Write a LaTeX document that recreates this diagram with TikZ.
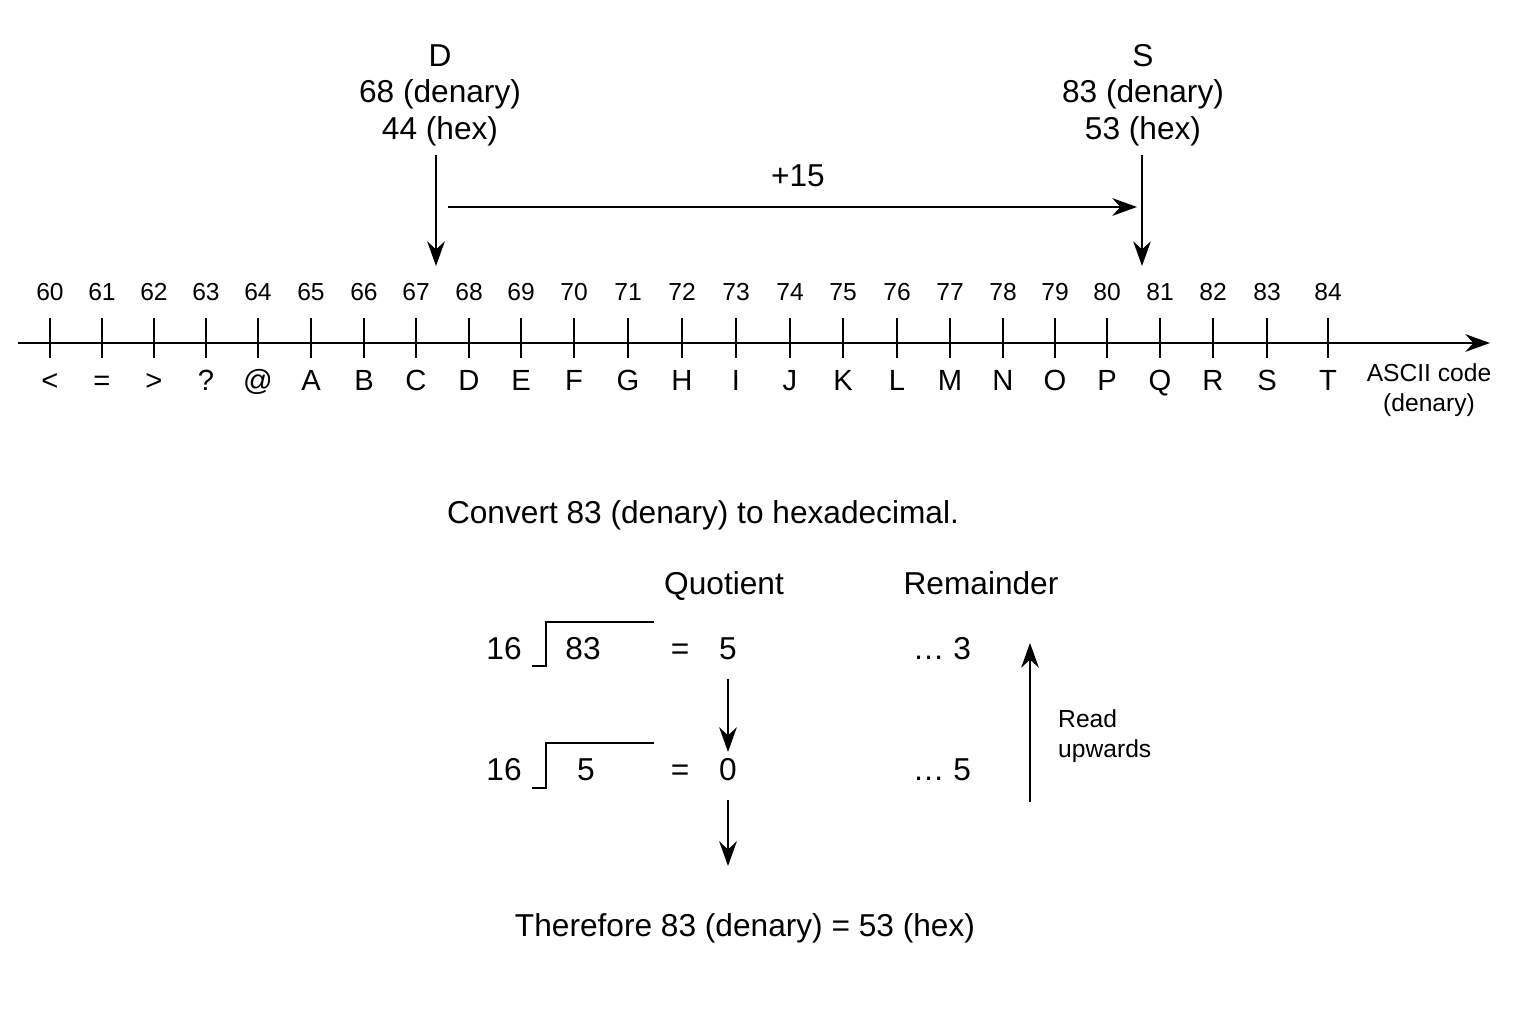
\documentclass[tikz,border=0pt]{standalone}
\usepackage{fontspec}
\setmainfont{Liberation Sans}
\usetikzlibrary{positioning,arrows.meta}
\begin{document}
\begin{tikzpicture}[x=0.01cm,y=-0.01cm,
    big/.style={font=\fontsize{9}{10.4}\selectfont,inner sep=1pt,text height=7pt,text depth=2pt},
    num/.style={font=\fontsize{7}{8.6}\selectfont,inner sep=1pt},
    let/.style={font=\fontsize{8.3}{10}\selectfont,inner sep=1pt,text height=6.5pt,text depth=1.5pt},
    arr/.style={-{Stealth[length=7pt,width=5pt]},thick}]
	\useasboundingbox (0,0) rectangle (1536,1024);
	% number line
	\coordinate (axl) at (18,343);
	\coordinate (axr) at (1490,343);
	\draw[arr] (axl)--(axr);
	\foreach \x/\n/\c [count=\i] in {50/60/<,102/61/=,154/62/>,206/63/?,258/64/@,311/65/A,364/66/B,416/67/C,469/68/D,521/69/E,574/70/F,628/71/G,682/72/H,736/73/I,790/74/J,843/75/K,897/76/L,950/77/M,1003/78/N,1055/79/O,1107/80/P,1160/81/Q,1213/82/R,1267/83/S,1328/84/T}{
		\draw[thick] (\x,318)--(\x,358);
		\node[num] (n\i) at (\x,292) {\n};
		\node[let] (c\i) at (\x,382) {\c};
	}
	\node[num,align=center] (asc) at (1429,390) {ASCII code\\(denary)};
	% D and S
	\node[big,align=center,text height=,text depth=] (dl) at (440,95) {D\\68 (denary)\\44 (hex)};
	\node[big,align=center,text height=,text depth=] (sl) at (1143,95) {S\\83 (denary)\\53 (hex)};
	\coordinate (dt) at (436,155);
	\coordinate (db) at (436,266);
	\coordinate (st) at (1142,155);
	\coordinate (sb) at (1142,266);
	\draw[arr] (dt)--(db);
	\draw[arr] (st)--(sb);
	\coordinate (pa) at (448,207);
	\coordinate (pb) at (1137,207);
	\draw[arr] (pa)--(pb);
	\node[big] (p15) at (798,178) {+15};
	% conversion
	\node[big] (conv) at (703,515) {Convert 83 (denary) to hexadecimal.};
	\node[big] (quo) at (724,586) {Quotient};
	\node[big] (rem) at (981,586) {Remainder};
	\node[big] (d1) at (504,651) {16};
	\node[big] (v1) at (583,651) {83};
	\node[big] (e1) at (680,651) {=};
	\node[big] (q1) at (728,651) {5};
	\node[big] (r1) at (942,651) {\dots\ 3};
	\node[big] (d2) at (504,772) {16};
	\node[big] (v2) at (586,772) {5};
	\node[big] (e2) at (680,772) {=};
	\node[big] (q2) at (728,772) {0};
	\node[big] (r2) at (942,772) {\dots\ 5};
	\draw[thick] (532,666)--(546,666)--(546,622)--(654,622);
	\draw[thick] (532,788)--(546,788)--(546,743)--(654,743);
	\coordinate (qb) at (728,866);
	\draw[arr] (q1.south)++(0,8)--(q2.north);
	\draw[arr] (q2.south)++(0,8)--(qb);
	\coordinate (ub) at (1030,802);
	\coordinate (ut) at (1030,643);
	\draw[arr] (ub)--(ut);
	\node[num,align=left,anchor=west] (rd) at (1054,736) {Read\\upwards};
	\node[big] (thf) at (745,928) {Therefore 83 (denary) =\ 53 (hex)};
\end{tikzpicture}
\end{document}
